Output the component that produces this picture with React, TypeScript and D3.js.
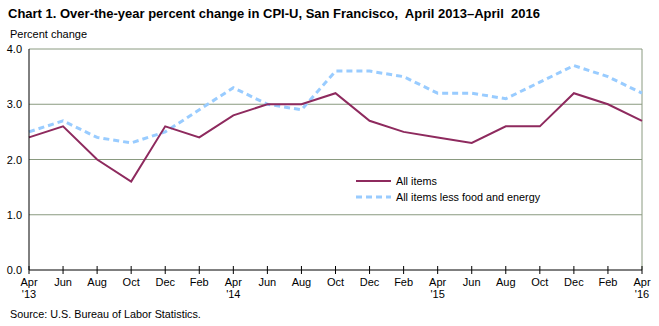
import React from "react";
import * as d3 from "d3";

const monthLabels = ["Apr", "Jun", "Aug", "Oct", "Dec", "Feb", "Apr", "Jun", "Aug", "Oct", "Dec", "Feb", "Apr", "Jun", "Aug", "Oct", "Dec", "Feb", "Apr"];
const yearLabels = ["'13", "", "", "", "", "", "'14", "", "", "", "", "", "'15", "", "", "", "", "", "'16"];
const allItems = [2.4, 2.6, 2.0, 1.6, 2.6, 2.4, 2.8, 3.0, 3.0, 3.2, 2.7, 2.5, 2.4, 2.3, 2.6, 2.6, 3.2, 3.0, 2.7];
const coreItems = [2.5, 2.7, 2.4, 2.3, 2.5, 2.9, 3.3, 3.0, 2.9, 3.6, 3.6, 3.5, 3.2, 3.2, 3.1, 3.4, 3.7, 3.5, 3.2];
const yTicks = [0, 1, 2, 3, 4];

const FONT = "'Liberation Sans', Arial, sans-serif";

export default function App() {
  const W = 659, H = 326;
  const left = 29, right = 642, top = 49, bottom = 270;
  const x = d3.scaleLinear().domain([0, monthLabels.length - 1]).range([left, right]);
  const y = d3.scaleLinear().domain([0, 4]).range([bottom, top]);
  const line = d3.line<number>().x((_, i) => x(i)).y((d) => y(d));
  return (
    <svg width={W} height={H} style={{ position: "absolute", left: 0, top: 0, background: "#fff" }} fontFamily={FONT}>
      <text x={8} y={18} fontSize={13} fontWeight="bold" fill="#000" style={{ whiteSpace: "pre" }}>Chart 1. Over-the-year percent change in CPI-U, San Francisco,  April 2013–April  2016</text>
      <text x={10} y={38} fontSize={11} fill="#000">Percent change</text>
      {yTicks.filter((t) => t > 0).map((t) => (
        <line key={t} x1={left} x2={right} y1={y(t)} y2={y(t)} stroke="#8a9a80" strokeWidth={1} />
      ))}
      <line x1={right} x2={right} y1={top} y2={bottom} stroke="#8a9a80" strokeWidth={1} />
      {yTicks.map((t) => (
        <text key={t} x={22} y={y(t) + 4} fontSize={11} textAnchor="end" fill="#000">{t.toFixed(1)}</text>
      ))}
      <path d={line(coreItems) || ""} fill="none" stroke="#99ccff" strokeWidth={3} strokeDasharray="6,4" />
      <path d={line(allItems) || ""} fill="none" stroke="#8e2a5e" strokeWidth={2} />
      <line x1={left} x2={left} y1={top} y2={bottom} stroke="#000" strokeWidth={1} />
      <line x1={left} x2={right} y1={bottom} y2={bottom} stroke="#000" strokeWidth={1} />
      {monthLabels.map((m, i) => (
        <g key={i}>
          <line x1={x(i)} x2={x(i)} y1={bottom - 4} y2={bottom + 4} stroke="#000" strokeWidth={1} />
          <text x={x(i)} y={286} fontSize={11} textAnchor="middle" fill="#000">{m}</text>
          {yearLabels[i] && <text x={x(i)} y={298} fontSize={11} textAnchor="middle" fill="#000">{yearLabels[i]}</text>}
        </g>
      ))}
      <line x1={356} x2={391} y1={181} y2={181} stroke="#8e2a5e" strokeWidth={2} />
      <text x={396} y={185} fontSize={10.8} fill="#000">All items</text>
      <line x1={356} x2={391} y1={197} y2={197} stroke="#99ccff" strokeWidth={3} strokeDasharray="6,4" />
      <text x={396} y={201} fontSize={10.8} fill="#000">All items less food and energy</text>
      <text x={10} y={318} fontSize={10.8} fill="#000">Source: U.S. Bureau of Labor Statistics.</text>
    </svg>
  );
}
